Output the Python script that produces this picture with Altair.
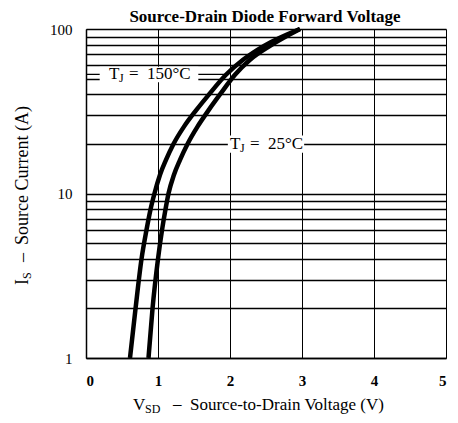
import altair as alt
import pandas as pd

# ---- data ----
current_A = [1, 2, 4, 6, 8, 10, 13, 16, 20, 25.5, 32, 40, 52.7, 65, 79, 100]
vsd_150C = [0.611, 0.688, 0.771, 0.840, 0.896, 0.951, 1.028, 1.111, 1.215,
            1.361, 1.528, 1.708, 1.944, 2.181, 2.472, 2.972]
vsd_25C = [0.868, 0.924, 1.000, 1.056, 1.104, 1.146, 1.222, 1.306, 1.410,
           1.549, 1.701, 1.861, 2.069, 2.278, 2.556, 2.972]

x_ticks = [0, 1, 2, 3, 4, 5]
y_grid = [1, 2, 3, 4, 5, 6, 7, 8, 9, 10, 20, 30, 40, 50, 60, 70, 80, 90, 100]

label_values = ["150°C", "25°C"]
label_v = [0.32, 2.00]
label_i = [53, 20]
box_v1 = [0.19, 1.97]
box_v2 = [1.56, 3.03]
box_i1 = [47.5, 17.7]
box_i2 = [59.0, 22.5]
leader_v = [0.0, 1.93]
leader_i = [53, 53]

FONT = "Liberation Serif"

rows = []
for v, i in zip(vsd_150C, current_A):
    rows.append({"V": v, "I": i, "series": "150"})
for v, i in zip(vsd_25C, current_A):
    rows.append({"V": v, "I": i, "series": "25"})
curves_df = pd.DataFrame(rows)

labels_df = pd.DataFrame({
    "val": label_values, "V": label_v, "I": label_i,
    "V1": box_v1, "V2": box_v2, "I1": box_i1, "I2": box_i2,
})
leader_df = pd.DataFrame({"V": [leader_v[0]], "V2": [leader_v[1]], "I": [leader_i[0]]})

xs = alt.Scale(domain=[0, 5], nice=False, zero=False)
ys = alt.Scale(type="log", domain=[1, 100], nice=False)

x_axis = alt.Axis(values=x_ticks, title=None, grid=True, gridColor="black",
                  gridWidth=1, gridOpacity=1, ticks=False, domainColor="black",
                  domainWidth=1.5, labelFont=FONT, labelFontSize=15,
                  labelFontWeight="bold", labelColor="black", labelPadding=15,
                  format="d")
y_axis = alt.Axis(values=y_grid, title=None, grid=True, gridColor="black",
                  gridWidth=1.3, gridOpacity=1, ticks=False, domainColor="black",
                  domainWidth=1.5, labelFont=FONT, labelFontSize=15,
                  labelColor="black", labelPadding=14,
                  labelExpr="(datum.value == 1 || datum.value == 10 || datum.value == 100) ? datum.label : ''")

curves = alt.Chart(curves_df).mark_line(
    color="black", strokeWidth=4.5, interpolate="monotone"
).encode(
    x=alt.X("V:Q", scale=xs, axis=x_axis),
    y=alt.Y("I:Q", scale=ys, axis=y_axis),
    detail="series:N",
    order="I:Q",
)

leader = alt.Chart(leader_df).mark_rule(color="black", strokeWidth=1.2).encode(
    x=alt.X("V:Q", scale=xs), x2="V2:Q", y=alt.Y("I:Q", scale=ys)
)

boxes = alt.Chart(labels_df).mark_rect(color="white").encode(
    x=alt.X("V1:Q", scale=xs), x2="V2:Q",
    y=alt.Y("I1:Q", scale=ys), y2="I2:Q",
)

def piece(text=None, field=None, dx=0, dy=0, size=17):
    kw = dict(font=FONT, fontSize=size, color="black", align="left",
              baseline="middle", dx=dx, dy=dy)
    if text is not None:
        kw["text"] = text
    m = alt.Chart(labels_df).mark_text(**kw)
    enc = dict(x=alt.X("V:Q", scale=xs), y=alt.Y("I:Q", scale=ys))
    if field is not None:
        enc["text"] = alt.Text(field + ":N")
    return m.encode(**enc)

lab_T = piece(text="T", dx=0)
lab_J = piece(text="J", dx=10, dy=4, size=12)
lab_eq = piece(text="=", dx=20)
lab_val = piece(field="val", dx=38)

one = pd.DataFrame({"a": [0]})

def fixed_text(txt, x, y, size=17, weight="normal", angle=0, align="left",
               baseline="alphabetic"):
    kw = dict(text=txt, font=FONT, fontSize=size, fontWeight=weight,
              color="black", align=align, baseline=baseline)
    if angle:
        kw["angle"] = angle
    return alt.Chart(one).mark_text(**kw).encode(x=alt.value(x), y=alt.value(y))

title = fixed_text("Source-Drain Diode Forward Voltage", 179, -20, size=17,
                   weight="bold", align="center", baseline="top")

xt_V = fixed_text("V", 47, 381, size=17)
xt_SD = fixed_text("SD", 59, 384, size=12)
xt_dash = fixed_text("–", 87, 380, size=17)
xt_main = fixed_text("Source-to-Drain Voltage (V)", 104, 381, size=17)

yt_I = fixed_text("I", -58, 256, size=18, angle=270)
yt_S = fixed_text("S", -55, 250, size=12, angle=270)
yt_dash = fixed_text("–", -58, 233, size=18, angle=270)
yt_main = fixed_text("Source Current (A)", -58, 216, size=18, angle=270)

chart = alt.layer(
    curves, leader, boxes, lab_T, lab_J, lab_eq, lab_val,
    title, xt_V, xt_SD, xt_dash, xt_main, yt_I, yt_S, yt_dash, yt_main,
).properties(
    width=360, height=329,
    autosize=alt.AutoSizeParams(type="none"),
    padding={"left": 78, "top": 21, "right": 4, "bottom": 57},
).configure_view(stroke="black", strokeWidth=1.5).configure(background="white")

chart.save("out.html", embed_options={"renderer": "svg", "actions": False})
